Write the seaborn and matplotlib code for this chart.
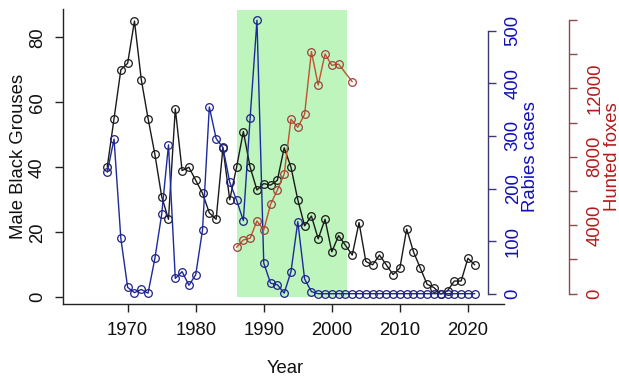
import pandas as pd
import seaborn as sns
import matplotlib.pyplot as plt
from matplotlib.patches import Rectangle

# valores
years = list(range(1967, 2022))
grouse = [40, 55, 70, 72, 85, 67, 55, 44, 31, 24,
          58, 39, 40, 36, 32, 26, 24, 46, 30, 40,
          51, 40, 33, 35, 34.5, 36, 46, 40, 30, 22,
          25, 18, 24, 14, 19, 16, 13, 23, 11, 10,
          13, 10, 7, 9, 21, 14, 9, 4, 3, 1,
          2, 5, 5, 12, 10]
rabies = [231, 294, 105, 12, 2, 8, 1, 67, 151, 283,
          29, 42, 16, 36, 121, 355, 295, 278, 212, 178,
          139, 335, 520, 58, 20, 17, 1, 42, 137, 28,
          4, 0, 0, 0, 0, 0, 0, 0, 0, 0,
          0, 0, 0, 0, 0, 0, 0, 0, 0, 0,
          0, 0, 0, 0, 0]
fox_years = [1986, 1987, 1988, 1989, 1990, 1991, 1992, 1993, 1994,
             1995, 1996, 1997, 1998, 1999, 2000, 2001, 2003]
foxes = [2710, 3140, 3240, 4250, 3720, 5220, 6060, 6990, 10190,
         9720, 10480, 14140, 12190, 14000, 13340, 13410, 12380]

shade_start, shade_end = 1986, 2002.3

x_ticks = [1970, 1980, 1990, 2000, 2010, 2020]
grouse_ticks = [0, 20, 40, 60, 80]
rabies_ticks = [0, 100, 200, 300, 400, 500]
fox_ticks = [0, 2000, 4000, 6000, 8000, 10000, 12000, 14000, 16000]
fox_labels = ['0', '', '4000', '', '8000', '', '12000', '', '']

df_g = pd.DataFrame({'Year': years, 'Grouse': grouse})
df_r = pd.DataFrame({'Year': years, 'Rabies': rabies})
df_f = pd.DataFrame({'Year': fox_years, 'Foxes': foxes})

sns.set_theme(style='ticks')
fs = 13.3
plt.rcParams['font.family'] = ['Liberation Sans', 'DejaVu Sans']
plt.rcParams.update({'font.size': fs, 'axes.labelsize': fs,
                     'xtick.labelsize': fs, 'ytick.labelsize': fs})

fig = plt.figure(figsize=(6.19, 3.81), dpi=100)
ax = fig.add_axes([63 / 619, 77 / 381, 441 / 619, 295 / 381])

# faixa verde
ax.add_patch(Rectangle((shade_start, 0), shade_end - shade_start, 88.4,
                       color='#bdf5bd', lw=0, zorder=0))

mk = dict(marker='o', markersize=5.5, markerfacecolor='none', markeredgewidth=0.9)

sns.lineplot(data=df_g, x='Year', y='Grouse', ax=ax, color='#1a1a1a', lw=1,
             markeredgecolor='#1a1a1a', **mk)
ax.set_xlim(1960.5, 2025.3)
ax.set_ylim(-2.06, 88.7)

ax2 = ax.twinx()
sns.lineplot(data=df_r, x='Year', y='Rabies', ax=ax2, color='#1c2a9c', lw=1,
             markeredgecolor='#20208a', **mk)
ax2.set_ylim(-19.6, 541.3)

ax3 = ax.twinx()
sns.lineplot(data=df_f, x='Year', y='Foxes', ax=ax3, color='#c0522d', lw=1,
             markeredgecolor='#a04040', **mk)
ax3.set_ylim(-602, 16630)

# eixos
for s in ['top', 'right']:
    ax.spines[s].set_visible(False)
for s in ['left', 'bottom']:
    ax.spines[s].set_color('#222222')
    ax.spines[s].set_linewidth(1)

for a, pos, col, lo, hi in [(ax2, 0.963, '#3a3a6e', 0, 500),
                            (ax3, 1.148, '#8b4b4b', 0, 16000)]:
    for s in ['top', 'left', 'bottom']:
        a.spines[s].set_visible(False)
    a.spines['right'].set_position(('axes', pos))
    a.spines['right'].set_bounds(lo, hi)
    a.spines['right'].set_color(col)
    a.spines['right'].set_linewidth(1)
    a.tick_params(axis='y', colors=col, length=6, width=1, pad=6.2, labelrotation=90)

ax.set_xticks(x_ticks)
ax.set_yticks(grouse_ticks)
ax.tick_params(axis='x', length=6, width=1, pad=7, color='#222222', labelcolor='#111111')
ax.tick_params(axis='y', length=6, width=1, pad=6.2, labelrotation=90, color='#222222',
               labelcolor='#111111')

ax2.set_yticks(rabies_ticks)
ax3.set_yticks(fox_ticks, fox_labels)
ax2.tick_params(axis='y', labelcolor='#1010b8')
ax3.tick_params(axis='y', labelcolor='#b31b1b')

for a in [ax, ax2, ax3]:
    for lab in a.get_yticklabels():
        lab.set_va('center')

ax.set_xlabel('Year', va='center', color='#111111')
ax.xaxis.set_label_coords(0.503, -0.217)
ax.set_ylabel('Male Black Grouses', va='center', color='#111111')
ax.yaxis.set_label_coords(-0.1007, 0.5)
ax2.set_ylabel('Rabies cases', color='#1010b8', va='center')
ax2.yaxis.set_label_coords(1.061, 0.5)
ax3.set_ylabel('Hunted foxes', color='#b31b1b', va='center')
ax3.yaxis.set_label_coords(1.245, 0.5)

fig.savefig('out.png', dpi=100)
